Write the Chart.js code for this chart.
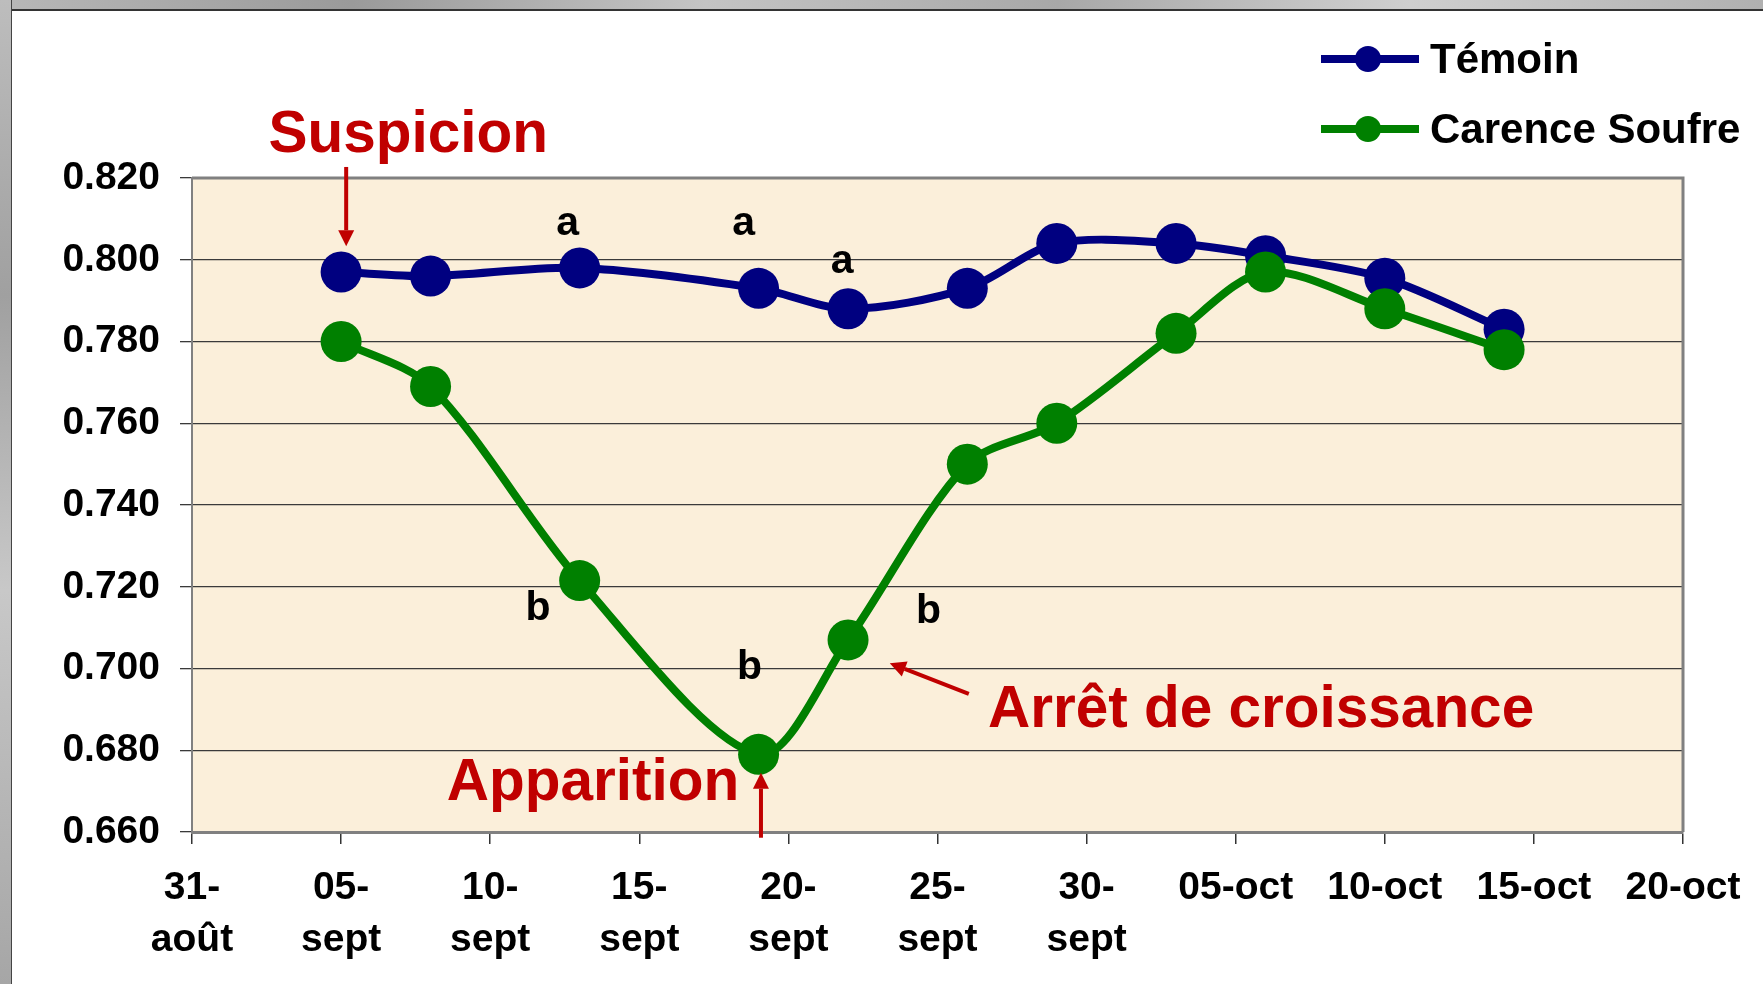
<!DOCTYPE html>
<html>
<head>
<meta charset="utf-8">
<script src="https://cdn.jsdelivr.net/npm/chart.js@4"></script>
<style>
  html, body { margin: 0; padding: 0; background: #fff; }
  #wrap { position: relative; width: 1763px; height: 984px; overflow: hidden; }
  #topStrip { position: absolute; left: 0; top: 0; width: 1763px; height: 9px;
    background: linear-gradient(90deg, #b8b8b8, #9a9a9a 20%, #c4c4c4 40%, #a8a8a8 60%, #cfcfcf 80%, #b0b0b0);
    border-bottom: 2px solid #333; }
  #leftStrip { position: absolute; left: 0; top: 0; width: 11px; height: 984px;
    background: linear-gradient(180deg, #bdbdbd, #a0a0a0 30%, #c8c8c8 60%, #a6a6a6);
    border-right: 1px solid #444; }
  canvas { position: absolute; left: 0; top: 0; }
</style>
</head>
<body>
<div id="wrap">
  <div id="topStrip"></div>
  <div id="leftStrip"></div>
  <canvas id="chart" width="1763" height="984"></canvas>
</div>
<script>
// days counted from 31-août
const days = [5, 8, 13, 19, 22, 26, 29, 33, 36, 40, 44];
const temoin = [0.797, 0.796, 0.798, 0.793, 0.788, 0.793, 0.804, 0.804, 0.801, 0.7955, 0.783];
const carence = [0.780, 0.769, 0.7215, 0.679, 0.707, 0.750, 0.760, 0.782, 0.797, 0.788, 0.778];
const seriesNames = ["Témoin", "Carence Soufre"];

const xTickLabels = [["31-", "août"], ["05-", "sept"], ["10-", "sept"], ["15-", "sept"], ["20-", "sept"],
  ["25-", "sept"], ["30-", "sept"], "05-oct", "10-oct", "15-oct", "20-oct"];

// letters (day, value)
const letterText = ["a", "a", "a", "b", "b", "b"];
const letterDay = [12.6, 18.5, 21.8, 11.6, 18.7, 24.7];
const letterVal = [0.8088, 0.8088, 0.7995, 0.7147, 0.7002, 0.7139];

// red notes: text, text position, arrow from -> to
const noteText = ["Suspicion", "Apparition", "Arrêt de croissance"];
const noteDay = [7.25, 13.45, 35.85];
const noteVal = [0.8303, 0.6718, 0.6897];
const arrowFrom = [[5.17, 0.8227], [19.08, 0.6586], [26.05, 0.6938]];
const arrowTo = [[5.17, 0.8033], [19.08, 0.6745], [23.4, 0.7013]];

const BLUE = "#000080";
const GREEN = "#008000";
const RED = "#C00000";
const FONT = "'Liberation Sans', Arial, sans-serif";

const canvasRef = document.getElementById("chart");

function drawArrow(ctx, x1, y1, x2, y2) {
  const ang = Math.atan2(y2 - y1, x2 - x1);
  const head = 16, half = 8;
  ctx.save();
  ctx.strokeStyle = RED;
  ctx.fillStyle = RED;
  ctx.lineWidth = 4;
  ctx.beginPath();
  ctx.moveTo(x1, y1);
  ctx.lineTo(x2 - Math.cos(ang) * head, y2 - Math.sin(ang) * head);
  ctx.stroke();
  ctx.beginPath();
  ctx.moveTo(x2, y2);
  ctx.lineTo(x2 - Math.cos(ang) * head - Math.sin(ang) * half, y2 - Math.sin(ang) * head + Math.cos(ang) * half);
  ctx.lineTo(x2 - Math.cos(ang) * head + Math.sin(ang) * half, y2 - Math.sin(ang) * head - Math.cos(ang) * half);
  ctx.closePath();
  ctx.fill();
  ctx.restore();
}

const extras = {
  id: "extras",
  beforeDraw(chart) {
    const { ctx, chartArea: a } = chart;
    ctx.save();
    ctx.fillStyle = "#FBEFDA";
    ctx.fillRect(a.left, a.top, a.right - a.left, a.bottom - a.top);
    ctx.restore();
  },
  beforeDatasetsDraw(chart) {
    const { ctx, chartArea: a } = chart;
    ctx.save();
    ctx.strokeStyle = "#808080";
    ctx.lineWidth = 3;
    ctx.beginPath();
    ctx.moveTo(a.left, a.top);
    ctx.lineTo(a.right, a.top);
    ctx.lineTo(a.right, a.bottom);
    ctx.stroke();
    ctx.restore();
  },
  afterDraw(chart) {
    const { ctx } = chart;
    const xs = chart.scales.x, ys = chart.scales.y;
    ctx.save();
    // letters
    ctx.fillStyle = "#000";
    ctx.font = "bold 41px " + FONT;
    ctx.textAlign = "center";
    ctx.textBaseline = "middle";
    letterText.forEach((t, i) => {
      ctx.fillText(t, xs.getPixelForValue(letterDay[i]), ys.getPixelForValue(letterVal[i]));
    });
    // red notes
    ctx.fillStyle = RED;
    ctx.font = "bold 58.5px " + FONT;
    noteText.forEach((t, i) => {
      ctx.fillText(t, xs.getPixelForValue(noteDay[i]), ys.getPixelForValue(noteVal[i]));
      drawArrow(ctx,
        xs.getPixelForValue(arrowFrom[i][0]), ys.getPixelForValue(arrowFrom[i][1]),
        xs.getPixelForValue(arrowTo[i][0]), ys.getPixelForValue(arrowTo[i][1]));
    });
    // legend
    ctx.font = "bold 42px " + FONT;
    ctx.textAlign = "left";
    chart.data.datasets.forEach((ds, i) => {
      const y = 59 + i * 70;
      ctx.strokeStyle = ds.borderColor;
      ctx.lineWidth = 8;
      ctx.beginPath();
      ctx.moveTo(1321, y);
      ctx.lineTo(1419, y);
      ctx.stroke();
      ctx.fillStyle = ds.borderColor;
      ctx.beginPath();
      ctx.arc(1368, y, 13, 0, Math.PI * 2);
      ctx.fill();
      ctx.fillStyle = "#000";
      ctx.fillText(ds.label, 1430, y + 2);
    });
    ctx.restore();
  }
};

const toPoints = (vals) => vals.map((v, i) => ({ x: days[i], y: v }));

let myChart = new Chart(canvasRef, {
  type: "line",
  data: {
    datasets: [
      {
        label: seriesNames[0],
        data: toPoints(temoin),
        borderColor: BLUE,
        backgroundColor: BLUE,
        pointBackgroundColor: BLUE,
        borderWidth: 8,
        pointRadius: 20.5,
        pointBorderWidth: 0,
        tension: 0.3,
        order: 2,
      },
      {
        label: seriesNames[1],
        data: toPoints(carence),
        borderColor: GREEN,
        backgroundColor: GREEN,
        pointBackgroundColor: GREEN,
        borderWidth: 8,
        pointRadius: 20.5,
        pointBorderWidth: 0,
        tension: 0.3,
        order: 1,
      },
    ],
  },
  options: {
    responsive: false,
    animation: false,
    events: [],
    layout: { padding: { left: 0, right: 80, top: 178, bottom: 0 } },
    plugins: { legend: { display: false }, tooltip: { enabled: false } },
    scales: {
      x: {
        type: "linear",
        min: 0,
        max: 50,
        afterFit(scale) { scale.height = 152; },
        ticks: {
          stepSize: 5,
          autoSkip: false,
          maxRotation: 0,
          minRotation: 0,
          padding: 18,
          color: "#000",
          font: { family: FONT, size: 39, weight: "bold", lineHeight: 1.33 },
          callback: (v) => xTickLabels[Math.round(v / 5)],
        },
        grid: { drawOnChartArea: false, drawTicks: true, tickLength: 12, color: "#333", lineWidth: 1.5 },
        border: { color: "#808080", width: 3 },
      },
      y: {
        min: 0.66,
        max: 0.82,
        afterFit(scale) { scale.width = 192; },
        ticks: {
          stepSize: 0.02,
          padding: 20,
          color: "#000",
          font: { family: FONT, size: 39, weight: "bold" },
          callback: (v) => v.toFixed(3),
        },
        grid: { color: "#3a3a3a", lineWidth: 1.3, tickLength: 12 },
        border: { color: "#808080", width: 2 },
      },
    },
  },
  plugins: [extras],
});
</script>
</body>
</html>
